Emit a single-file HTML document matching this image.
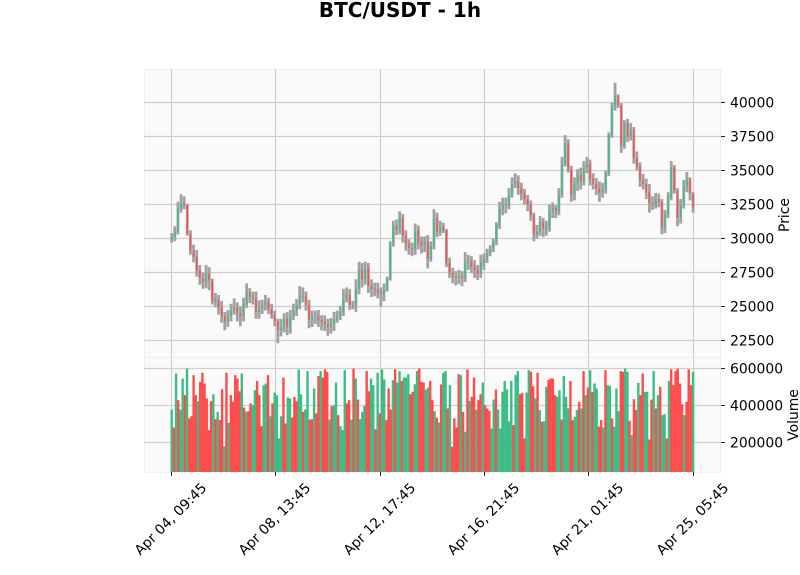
<!DOCTYPE html>
<html>
<head>
<meta charset="utf-8">
<title>BTC/USDT - 1h</title>
<style>
html,body{margin:0;padding:0;background:#fff;width:800px;height:575px;overflow:hidden}
svg{display:block;font-family:"DejaVu Sans","Liberation Sans",sans-serif}
</style>
</head>
<body>
<svg id="chart" xmlns="http://www.w3.org/2000/svg" width="800" height="575" viewBox="0 0 800 575">
  <text x="400" y="17" text-anchor="middle" font-size="20" font-weight="bold" fill="#000">BTC/USDT - 1h</text>
  <rect x="144.5" y="69.5" width="576" height="288" fill="#fafafa" stroke="#f0f0f0"/>
  <rect x="144.5" y="357.5" width="576" height="115" fill="#fafafa" stroke="#f0f0f0"/>
  <g id="grid"></g>
  <g id="volumes"></g>
  <g id="candles"></g>
  <g id="axes"></g>
  <text transform="translate(785,215) rotate(-90)" text-anchor="middle" font-size="13.9" fill="#000" dominant-baseline="central">Price</text>
  <text transform="translate(794,415) rotate(-90)" text-anchor="middle" font-size="13.9" fill="#000" dominant-baseline="central">Volume</text>
</svg>
<script>
// Time axis (hours since first candle) and labels
const timeTickHours = [0, 100, 200, 300, 400, 500];
const timeTickLabels = ["Apr 04, 09:45", "Apr 08, 13:45", "Apr 12, 17:45", "Apr 16, 21:45", "Apr 21, 01:45", "Apr 25, 05:45"];
const priceTicks = [22500, 25000, 27500, 30000, 32500, 35000, 37500, 40000];
const volumeTicks = [200000, 400000, 600000];
const candleStepHours = 500 / 167;
const firstOpen = 29950;

// Estimated close of each sampled candle
const closes = [
30100,30500,32200,32600,32450,30300,29100,28650,27700,27100,
26800,27400,26900,25350,25500,24900,24300,23900,24300,24700,
24900,24500,24300,25200,26000,25700,25600,24600,24850,25100,
25350,24800,24400,23900,23300,23400,24100,23500,24300,24700,
25100,25700,25800,25100,24000,24200,24250,24000,23850,23700,
23500,23700,24100,24300,24600,25600,25900,25100,25000,26300,
27700,27000,27800,26500,26300,26250,26000,25900,26200,27000,
29700,30900,30600,31500,30200,29600,29300,29200,30600,29700,
29500,29750,28500,29500,31500,30500,30850,30600,28200,27500,
27200,27150,27250,27100,28200,28300,27950,27700,27400,28200,
28500,28900,29200,29800,31000,32200,32500,32450,33200,34000,
34200,33700,33300,32900,32500,31700,30300,30500,31200,30700,
30900,32000,32250,32000,33200,35500,37000,35050,33200,34000,
34700,34200,35200,35500,34400,34000,33700,33400,33600,34800,
37600,39700,40500,39800,36800,38500,37500,38000,35900,35300,
34300,34000,33400,32600,32500,32900,32700,30800,31800,33000,
35200,33500,31500,32500,33800,34400,33300,32300];

// Estimated extent of the upper wick above the body, USD
const wickUp = [
300,400,500,650,500,100,300,450,500,350,
400,650,500,150,500,350,500,300,450,500,
700,400,500,450,700,350,400,500,600,400,
500,300,400,300,200,700,400,500,450,500,
450,800,600,300,400,500,450,500,350,500,
400,450,500,400,450,700,500,400,300,700,
600,500,500,400,500,450,500,400,500,200,
100,400,500,500,300,400,350,400,500,350,
450,400,500,300,650,400,450,300,100,400,
350,400,450,350,800,500,400,450,350,600,
400,350,300,200,200,500,500,500,500,500,
600,450,400,350,300,300,200,500,450,300,
400,500,400,200,500,500,600,300,300,500,
400,500,500,500,300,400,450,500,500,200,
200,300,950,100,150,200,300,500,200,500,
300,450,400,600,500,450,400,200,300,400,
500,200,200,400,500,500,100,100];

// Estimated extent of the lower wick below the body, USD
const wickDown = [
250,300,200,300,300,100,300,400,500,500,
500,450,700,200,400,500,500,650,400,400,
300,600,750,400,300,450,450,500,500,400,
400,350,300,350,1000,500,300,600,500,300,
400,300,400,400,600,500,500,500,600,500,
650,500,500,300,300,300,300,350,200,400,
400,600,400,500,600,500,400,900,500,100,
100,300,350,300,500,500,500,500,400,500,
600,500,700,200,300,400,300,200,300,400,
500,600,500,600,300,500,500,600,450,300,
500,300,200,200,300,300,500,600,300,200,
300,500,500,400,500,400,500,300,300,600,
500,400,500,500,300,200,200,200,500,400,
500,600,300,400,500,400,500,700,400,300,
200,200,300,200,500,200,400,300,400,300,
500,400,500,700,400,300,400,500,400,300,
200,200,600,400,300,400,500,400];

// Estimated volume of each visible bar, thousands
const volumeThousands = [
378,281,573,429,378,546,456,600,330,342,
564,456,423,528,577,519,438,267,423,461,
326,366,321,488,180,577,306,456,420,564,
546,477,573,389,366,369,411,402,483,532,
456,288,510,519,564,342,411,470,456,222,
342,551,303,443,438,335,447,423,595,461,
366,378,586,324,326,492,357,559,586,551,
595,582,324,396,402,524,348,288,267,591,
411,429,324,600,546,432,326,366,398,586,
477,546,510,272,577,357,595,541,321,492,
378,537,596,524,586,533,551,551,569,461,
474,515,586,600,528,524,486,497,532,429,
369,333,308,514,577,586,384,510,177,330,
281,569,564,366,258,595,425,447,551,378,
429,461,524,402,384,371,276,432,486,378,
276,474,532,488,315,533,294,564,586,461,
468,222,470,591,582,504,438,577,375,312,
315,501,537,546,546,456,447,483,324,559,
447,384,532,321,339,375,420,384,586,456,
497,591,474,519,492,285,321,281,591,510,
506,330,285,492,369,586,582,600,582,317,
240,434,375,522,456,573,474,474,216,432,
586,384,456,501,348,353,222,533,596,510,
586,600,519,407,348,420,595,510,582];

// Direction of each volume bar: G up, R down
const volumeDirections = [
"G","R","G","R","G","G","R","G","R","R",
"R","R","G","R","R","R","R","R","R","G",
"R","G","R","R","G","R","G","R","R","R",
"R","R","G","R","G","R","R","G","G","R",
"R","R","G","G","R","G","R","G","G","G",
"G","R","R","G","G","R","R","R","G","G",
"R","G","G","R","R","G","R","R","G","R",
"R","R","G","R","G","G","R","G","G","G",
"R","R","G","R","G","R","G","G","G","R",
"R","G","G","R","G","R","G","G","R","R",
"R","G","R","G","G","R","G","G","G","R",
"R","G","G","R","R","R","G","G","R","R",
"G","R","G","R","G","G","R","G","R","R",
"R","R","G","R","G","R","G","R","R","G",
"R","R","G","R","R","R","G","G","R","G",
"G","G","G","G","G","G","R","G","G","R",
"R","R","G","G","R","R","G","R","G","R",
"G","G","R","R","R","R","G","G","R","G",
"G","G","R","R","G","G","R","G","R","G",
"R","G","R","G","G","R","R","G","R","G",
"G","R","G","G","G","R","R","G","G","R",
"G","R","R","G","R","R","G","G","R","R",
"G","R","G","R","G","G","R","G","R","R",
"R","R","R","R","G","R","R","R","G"];

const SVGNS = "http://www.w3.org/2000/svg";
const upColor = "#3dbd85", downColor = "#ff4d4d", wickColor = "#a2a2a2", gridColor = "#cfcfcf";
const xOfHour = h => 171.7 + h * 1.0428;
const yOfPrice = p => 102.5 + (40000 - p) * 34 / 2500;
const yOfVolume = v => 442.5 - (v - 200000) * 37 / 200000;
const volumeFloorY = 472;

function line(parent, x1, y1, x2, y2, color, width) {
  const el = document.createElementNS(SVGNS, "line");
  el.setAttribute("x1", x1);
  el.setAttribute("y1", y1);
  el.setAttribute("x2", x2);
  el.setAttribute("y2", y2);
  el.setAttribute("stroke", color);
  el.setAttribute("stroke-width", width);
  parent.appendChild(el);
  return el;
}
function label(parent, x, y, text) {
  const el = document.createElementNS(SVGNS, "text");
  el.setAttribute("x", x);
  el.setAttribute("y", y);
  el.setAttribute("font-size", "13.9");
  el.setAttribute("fill", "#000");
  el.setAttribute("dominant-baseline", "central");
  el.textContent = text;
  parent.appendChild(el);
  return el;
}

const gridGroup = document.getElementById("grid");
const axesGroup = document.getElementById("axes");
const candleGroup = document.getElementById("candles");
const volumeGroup = document.getElementById("volumes");

timeTickHours.forEach((h, i) => {
  const x = Math.floor(xOfHour(h)) + 0.5;
  const g = line(gridGroup, x, 69, x, 472, gridColor, 1.2);
  
  
  const t = line(axesGroup, x, 472, x, 476, "#222", 1);
  
  
  const l = label(axesGroup, x - 0.5, 519.5, timeTickLabels[i]);
  l.setAttribute("text-anchor", "middle");
  l.setAttribute("transform", "rotate(-45 " + (x - 0.5) + " 519.5)");
  
  
});
priceTicks.forEach(p => {
  const y = yOfPrice(p);
  const g = line(gridGroup, 144, y, 721, y, gridColor, 1.2);
  
  
  const t = line(axesGroup, 721, y, 725, y, "#222", 1);
  
  
  const l = label(axesGroup, 730, y + 1, String(p));
  
  
});
volumeTicks.forEach(v => {
  const y = yOfVolume(v);
  const g = line(gridGroup, 144, y, 721, y, gridColor, 1.2);
  
  
  const t = line(axesGroup, 721, y, 725, y, "#222", 1);
  
  
  const l = label(axesGroup, 730, y + 1, String(v));
  
  
});

volumeThousands.forEach((v, i) => {
  const hour = i * 500 / (volumeThousands.length - 1);
  const x = xOfHour(hour);
  const top = yOfVolume(v * 1000);
  const bar = document.createElementNS(SVGNS, "rect");
  bar.setAttribute("x", x - 1.2);
  bar.setAttribute("y", top);
  bar.setAttribute("width", 2.4);
  bar.setAttribute("height", Math.max(0, volumeFloorY - top));
  bar.setAttribute("fill", volumeDirections[i] === "G" ? upColor : downColor);
  
  
  volumeGroup.appendChild(bar);
});

closes.forEach((close, i) => {
  const open = i === 0 ? firstOpen : closes[i - 1];
  const x = xOfHour(i * candleStepHours);
  const high = Math.max(open, close) + wickUp[i];
  const low = Math.min(open, close) - wickDown[i];
  const wick = line(candleGroup, x, yOfPrice(high), x, yOfPrice(low), wickColor, 2.8);
  
  
  const body = line(candleGroup, x, yOfPrice(open), x, yOfPrice(close), close >= open ? upColor : downColor, 1.4);
  
  
});
</script>
</body>
</html>
